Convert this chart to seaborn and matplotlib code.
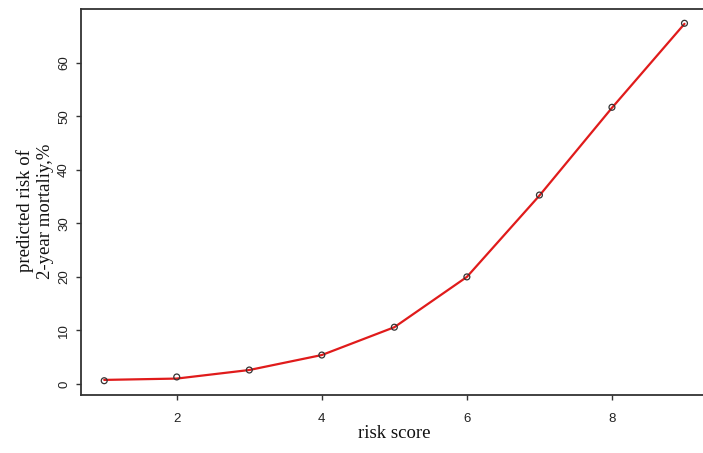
import numpy as np
import pandas as pd
import seaborn as sns
import matplotlib.pyplot as plt

# valores
risk_score = [1, 2, 3, 4, 5, 6, 7, 8, 9]
observado = [0.6, 1.3, 2.6, 5.4, 10.6, 20.0, 35.3, 51.7, 67.4]
curva = [0.75, 1.0, 2.6, 5.4, 10.6, 20.0, 35.2, 51.6, 67.3]
yticks = [0, 10, 20, 30, 40, 50, 60]
xticks = [2, 4, 6, 8]

sns.set_style("white")
plt.rcParams["font.family"] = ["Liberation Sans", "DejaVu Sans"]

df = pd.DataFrame({"score": risk_score, "obs": observado, "fit": curva})

fig = plt.figure(figsize=(7.03, 4.53), dpi=100)
ax = fig.add_axes([81 / 703, 58 / 453, 626.7 / 703, 386 / 453])

sns.lineplot(x="score", y="fit", data=df, ax=ax, color="#e01b1b", linewidth=1.6)
sns.scatterplot(x="score", y="obs", data=df, ax=ax, marker="o", s=18,
                facecolor="none", edgecolor="#333333", linewidth=0.9, zorder=3)

# limites no estilo R (4% de folga)
ax.set_xlim(0.68, 9.32)
ax.set_ylim(-2.07, 70.07)
ax.set_xticks(xticks)
ax.set_yticks(yticks)
ax.set_xlabel("")
ax.set_ylabel("")

for s in ["left", "bottom", "top"]:
    ax.spines[s].set_color("#333333")
    ax.spines[s].set_linewidth(1.3)
ax.spines["right"].set_visible(False)

ax.tick_params(axis="both", direction="out", length=3.6, width=1, color="#333333",
               labelsize=9.5, labelcolor="#222222", bottom=True, left=True)
ax.tick_params(axis="x", pad=9.0)
ax.tick_params(axis="y", pad=4.3)
for lab in ax.get_yticklabels():
    lab.set_rotation(90)
    lab.set_va("center")

fig.text(394 / 703, 1 - 433 / 453, "risk score", family=["Liberation Serif", "DejaVu Serif"],
         fontsize=13.5, ha="center", va="center", color="#111111")
fig.text(35 / 703, 1 - 211 / 453, "predicted risk of\n2-year mortaliy,%",
         family=["Liberation Serif", "DejaVu Serif"], fontsize=13.5, rotation=90,
         ha="center", va="center", linespacing=1.25, multialignment="center", color="#111111")

plt.savefig("out.png", dpi=100)
plt.close()
